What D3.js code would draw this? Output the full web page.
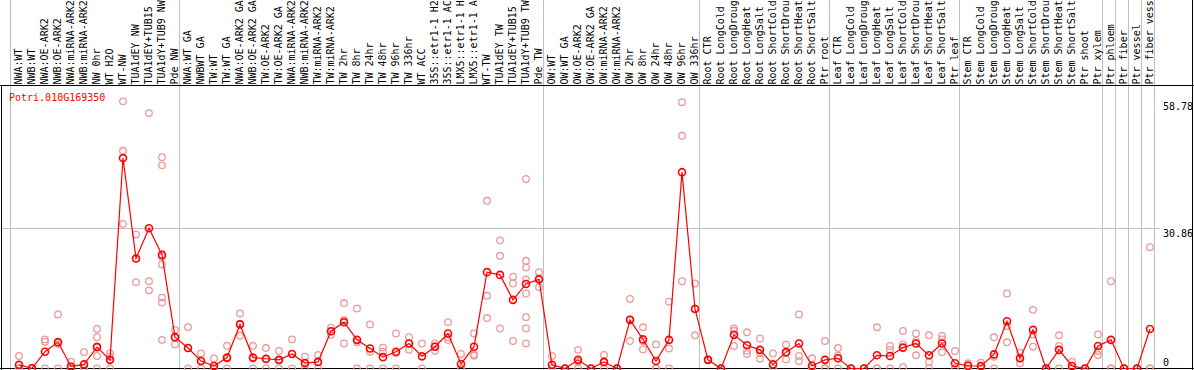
<!DOCTYPE html>
<html>
<head>
<meta charset="utf-8">
<script src="https://cdnjs.cloudflare.com/ajax/libs/d3/7.8.5/d3.min.js"></script>
<style>
  body { margin: 0; background: #fff; }
  svg { display: block; }
  text { font-family: "DejaVu Sans Mono", monospace; font-size: 10px; }
</style>
</head>
<body>
<script>
const w = 1194;
const h = 370;
const geneName = "Potri.010G169350";
const maxChars = 14; // the column labels are cut to this length

const labels = [
  "NWA:WT", "NWB:WT", "NWA:OE-ARK2", "NWB:OE-ARK2", "NWA:miRNA-ARK2", "NWB:miRNA-ARK2",
  "NW 0hr", "WT H2O", "WT-NW", "TUA1dEY NW", "TUA1dEY+TUB15 NW", "TUA1dY+TUB9 NW", "Pde NW",
  "NWA:WT GA", "NWBWT GA", "TW:WT", "TW:WT GA", "NWA:OE-ARK2 GA", "NWB:OE-ARK2 GA",
  "TW:OE-ARK2", "TW:OE-ARK2 GA", "NWA:miRNA-ARK2", "NWB:miRNA-ARK2", "TW:miRNA-ARK2",
  "TW:miRNA-ARK2", "TW 2hr", "TW 8hr", "TW 24hr", "TW 48hr", "TW 96hr", "TW 336hr", "WT ACC",
  "35S::etr1-1 H2O", "35S::etr1-1 ACC", "LMX5::etr1-1 H2O", "LMX5::etr1-1 ACC", "WT-TW",
  "TUA1dEY TW", "TUA1dEY+TUB15 TW", "TUA1dY+TUB9 TW", "Pde TW",
  "OW:WT", "OW:WT GA", "OW:OE-ARK2", "OW:OE-ARK2 GA", "OW:miRNA-ARK2", "OW:miRNA-ARK2",
  "OW 2hr", "OW 8hr", "OW 24hr", "OW 48hr", "OW 96hr", "OW 336hr",
  "Root CTR", "Root LongCold", "Root LongDrought", "Root LongHeat", "Root LongSalt",
  "Root ShortCold", "Root ShortDrought", "Root ShortHeat", "Root ShortSalt", "Ptr root",
  "Leaf CTR", "Leaf LongCold", "Leaf LongDrought", "Leaf LongHeat", "Leaf LongSalt",
  "Leaf ShortCold", "Leaf ShortDrought", "Leaf ShortHeat", "Leaf ShortSalt", "Ptr leaf",
  "Stem CTR", "Stem LongCold", "Stem LongDrought", "Stem LongHeat", "Stem LongSalt",
  "Stem ShortCold", "Stem ShortDrought", "Stem ShortHeat", "Stem ShortSalt", "Ptr shoot",
  "Ptr xylem", "Ptr phloem", "Ptr fiber", "Ptr vessel", "Ptr fiber vessel"
];

// column index where each group starts (last one = end)
const groupBreaks = [0, 13, 41, 53, 63, 73, 84, 85, 86, 87, 88];

const means = [
  0.8, 0.05, 3.7, 5.8, 0.45, 0.9, 4.7, 1.9, 46.3, 24.2, 30.86, 25.0, 6.9,
  4.5, 1.65, 0.55, 2.4, 9.7, 2.4, 2.15, 1.9, 3.2, 1.2, 1.45, 8.2, 10.2, 6.3, 4.4, 2.5, 3.7,
  5.5, 2.7, 4.8, 7.7, 1.0, 4.8, 21.2, 20.6, 15.1, 18.6, 19.6,
  0.8, 0.0, 1.9, 0.0, 1.45, 0.0, 10.7, 6.4, 1.65, 6.3, 43.2, 13.1,
  1.9, 0.0, 7.4, 5.1, 4.1, 0.9, 3.6, 5.5, 0.6, 1.9,
  2.25, 0.0, 0.0, 2.9, 2.75, 4.6, 5.5, 2.9, 5.5, 1.15,
  0.6, 0.55, 3.1, 10.4, 2.25, 8.5, 0.0, 4.1, 0.55, 0.0, 4.95,
  6.3, 0.0, 0.0, 8.7
];

const replicates = [
  [2.75, 0, 0], [0, 0, 0.15], [6.4, 5.9, 0], [11.9, 5.4, 0], [1.5, 0, 0], [3.6, 0, 0],
  [8.7, 6.9, 4.9, 2.75, 0], [3.3, 2.6, 0], [58.78, 47.9, 31.8], [29.5, 24.2, 19.0],
  [56.2, 19.2, 17.2], [46.5, 44.7, 24.6, 22.9, 15.6, 14.5, 6.3], [8.5, 6.8, 5.3],
  [9.1, 4.5, 0], [3.3, 1.65, 0], [2.2, 0, 0], [5.0, 2.2, 0], [12.1, 9.8, 7.2], [5.0, 2.2, 0],
  [4.5, 2.0, 0], [3.85, 1.8, 0], [6.4, 3.2, 0], [2.6, 1.0, 0], [3.0, 1.4, 0], [9.0, 8.2, 7.4],
  [14.4, 10.7, 5.5], [13.2, 5.8, 0], [9.7, 3.7, 0], [4.6, 3.7, 0], [7.7, 3.4, 0],
  [6.9, 5.5, 4.1], [5.5, 2.6, 0], [5.5, 4.9, 3.9], [10.2, 6.9, 6.3], [3.2, 0, 0],
  [7.7, 3.1, 2.8], [36.9, 16.0, 11.1], [28.2, 24.8, 8.8], [20.2, 18.7, 6.05],
  [41.7, 23.7, 22.2, 19.6, 16.5, 11.3, 8.8, 5.5], [21.2, 19.8, 17.9],
  [2.75, 0, 0], [0, 0, 0], [4.1, 1.5, 0], [0, 0, 0], [3.0, 1.3, 0], [0, 0, 0],
  [15.3, 10.8, 6.05], [9.06, 6.0, 4.2], [5.3, 0, 0], [14.7, 4.4, 0], [58.6, 51.2, 19.2],
  [18.7, 13.2, 7.3],
  [2.0, 1.9, 1.8], [0, 0, 0], [8.8, 8.3, 4.95], [7.96, 3.9, 3.2], [6.6, 3.4, 2.16],
  [3.3, 0, 0], [5.3, 3.4, 2.0], [11.9, 2.75, 1.65], [2.24, 0, 0], [6.05, 0, 0],
  [4.5, 2.8, 0], [0, 0, 0], [0, 0, 0], [9.06, 0, 0], [4.95, 4.07, 0], [8.25, 5.3, 0.3],
  [7.7, 6.05, 2.9], [7.3, 1.43, 0], [7.15, 6.4, 3.56], [3.85, 0, 0],
  [1.14, 0.7, 0], [1.3, 0.35, 0], [6.86, 2.6, 0], [16.5, 9.35, 5.76], [3.5, 2.2, 1.14],
  [12.9, 7.5, 4.8], [0, 0, 0], [7.3, 4.95, 0], [1.5, 0, 0], [0, 0, 0], [7.5, 3.85, 2.97],
  [19.2, 0, 0], [0, 0, 0], [0, 0, 0], [26.7, 0, 0]
];

const yMax = 61.72;
const yTicks = [58.78, 30.86, 0];
const gridVals = [30.86];

const idx = d3.range(labels.length);

const xScale = d3.scaleBand()
                 .domain(idx)
                 .range([10.5, 10.5 + 13 * labels.length]);

const px = (i) => xScale(i) + xScale.bandwidth() / 2 + 2;

const yScale = d3.scaleLinear()
                 .domain([0, yMax])
                 .range([368.5, 88]);

const svg = d3.select("body")
              .append("svg")
              .attr("width", w)
              .attr("height", h)

// gridline
svg.selectAll(".grid")
   .data(gridVals)
   .enter()
   .append("line")
   .attr("x1", 1)
   .attr("x2", 1160)
   .attr("y1", (d) => Math.round(yScale(d)) + 0.5)
   .attr("y2", (d) => Math.round(yScale(d)) + 0.5)
   .attr("stroke", "#c0c0c0")

// group separators
svg.selectAll(".sep")
   .data(groupBreaks)
   .enter()
   .append("line")
   .attr("x1", (d) => d < labels.length ? xScale(d) : xScale(d - 1) + xScale.bandwidth())
   .attr("x2", (d) => d < labels.length ? xScale(d) : xScale(d - 1) + xScale.bandwidth())
   .attr("y1", 0)
   .attr("y2", h)
   .attr("stroke", "#c0c0c0")

// frame
svg.append("line").attr("x1", 0).attr("x2", w).attr("y1", 85.5).attr("y2", 85.5).attr("stroke", "#000")
svg.append("line").attr("x1", 0).attr("x2", w).attr("y1", 368.5).attr("y2", 368.5).attr("stroke", "#000")
svg.append("line").attr("x1", 1.5).attr("x2", 1.5).attr("y1", 85).attr("y2", h).attr("stroke", "#000")
svg.append("line").attr("x1", 1192.5).attr("x2", 1192.5).attr("y1", 0).attr("y2", h).attr("stroke", "#000")

// column labels
svg.selectAll(".collabel")
   .data(labels)
   .enter()
   .append("text")
   .attr("transform", (d, i) => "translate(" + (px(i) + 2.5) + ",84.5) rotate(-90)")
   .attr("fill", "#000")
   .text((d) => d.slice(0, maxChars))

// replicate points
const repPts = [];
replicates.forEach((arr, i) => arr.forEach((v) => repPts.push({i: i, v: v})));

svg.selectAll(".rep")
   .data(repPts)
   .enter()
   .append("circle")
   .attr("cx", (d) => px(d.i))
   .attr("cy", (d) => yScale(d.v))
   .attr("r", 3.3)
   .attr("fill", "none")
   .attr("stroke", "#eb9a9a")
   .attr("stroke-width", 1.3)

// mean line
const line = d3.line()
               .x((d, i) => px(i))
               .y((d) => yScale(d))

svg.append("path")
   .datum(means)
   .attr("d", line)
   .attr("fill", "none")
   .attr("stroke", "#ff0000")
   .attr("stroke-width", 1.2)

svg.selectAll(".mean")
   .data(means)
   .enter()
   .append("circle")
   .attr("cx", (d, i) => px(i))
   .attr("cy", (d) => yScale(d))
   .attr("r", 3.5)
   .attr("fill", "none")
   .attr("stroke", "#ff0000")
   .attr("stroke-width", 1.6)

// y labels on the right
svg.selectAll(".ylab")
   .data(yTicks)
   .enter()
   .append("text")
   .attr("x", 1163)
   .attr("y", (d) => Math.min(yScale(d) + 8.5, 366))
   .attr("fill", "#000")
   .text((d) => d)

svg.append("text")
   .attr("x", 9)
   .attr("y", 101)
   .attr("fill", "#ff0000")
   .text(geneName)
</script>
</body>
</html>
